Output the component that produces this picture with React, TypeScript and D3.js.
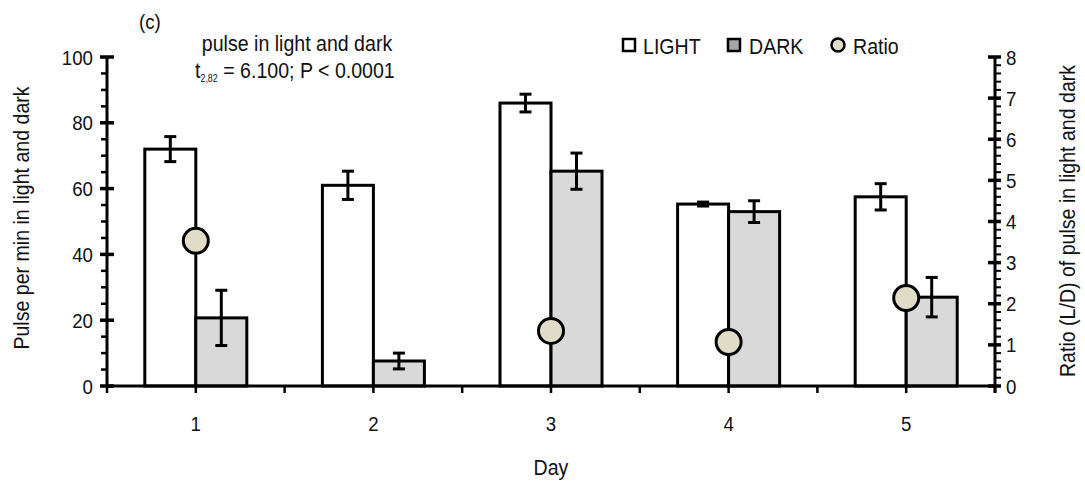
import { useEffect, useRef } from "react";
import * as d3 from "d3";

const days = ["1", "2", "3", "4", "5"];
const lightMean = [72, 61, 86, 55.3, 57.5];
const lightErr = [3.8, 4.3, 2.7, 0.6, 4];
const darkMean = [20.7, 7.6, 65.3, 53, 27];
const darkErr = [8.4, 2.4, 5.5, 3.3, 6];
const ratio: (number | null)[] = [3.53, null, 1.34, 1.07, 2.14];
const leftTicks = [0, 20, 40, 60, 80, 100];
const rightTicks = [0, 1, 2, 3, 4, 5, 6, 7, 8];

const FONT = "'Liberation Sans', Arial, sans-serif";
const SQUEEZE = 0.89; // the original font is a narrow Arial

const App = () => {
  const ref = useRef<SVGSVGElement>(null);

  useEffect(() => {
    const svg = d3.select(ref.current);
    svg.selectAll("*").remove();

    const left = 107, right = 995, top = 57, bottom = 386;
    const x = d3.scaleBand().domain(days).range([left, right]).paddingInner(0).paddingOuter(0);
    const y = d3.scaleLinear().domain([0, 100]).range([bottom, top]);
    const y2 = d3.scaleLinear().domain([0, 8]).range([bottom, top]);
    const barW = 51;
    const stroke = "#000";

    // narrow text helper
    const label = (px: number, py: number, str: string, size: number, anchor = "start", rot = 0) =>
      svg.append("text")
        .attr("transform", `translate(${px},${py}) rotate(${rot}) scale(${SQUEEZE},1)`)
        .attr("text-anchor", anchor)
        .attr("font-family", FONT)
        .attr("font-size", size)
        .attr("fill", "#111")
        .text(str);

    const g = svg.append("g");

    // bars
    days.forEach((d, i) => {
      const cx = x(d)! + x.bandwidth() / 2;
      g.append("rect")
        .attr("x", cx - barW).attr("y", y(lightMean[i]))
        .attr("width", barW).attr("height", bottom - y(lightMean[i]))
        .attr("fill", "#fff").attr("stroke", stroke).attr("stroke-width", 3);
      g.append("rect")
        .attr("x", cx).attr("y", y(darkMean[i]))
        .attr("width", barW).attr("height", bottom - y(darkMean[i]))
        .attr("fill", "#d9d9d9").attr("stroke", stroke).attr("stroke-width", 3);
    });

    // error bars
    const errBar = (cx: number, m: number, e: number) => {
      const eg = g.append("g").attr("stroke", stroke).attr("stroke-width", 3);
      eg.append("line").attr("x1", cx).attr("x2", cx).attr("y1", y(m + e)).attr("y2", y(m - e));
      eg.append("line").attr("x1", cx - 6).attr("x2", cx + 6).attr("y1", y(m + e)).attr("y2", y(m + e));
      eg.append("line").attr("x1", cx - 6).attr("x2", cx + 6).attr("y1", y(m - e)).attr("y2", y(m - e));
    };
    days.forEach((d, i) => {
      const cx = x(d)! + x.bandwidth() / 2;
      errBar(cx - barW / 2, lightMean[i], lightErr[i]);
      errBar(cx + barW / 2, darkMean[i], darkErr[i]);
    });

    // ratio points
    days.forEach((d, i) => {
      const r = ratio[i];
      if (r == null) return;
      const cx = x(d)! + x.bandwidth() / 2;
      g.append("circle").attr("cx", cx).attr("cy", y2(r)).attr("r", 12.5)
        .attr("fill", "#e0dcc8").attr("stroke", stroke).attr("stroke-width", 3);
    });

    // x axis
    const ax = svg.append("g").attr("stroke", stroke);
    ax.append("line").attr("x1", left).attr("x2", right).attr("y1", bottom).attr("y2", bottom).attr("stroke-width", 3);
    const xTicks = [...days.map(d => x(d)!), right, ...days.map(d => x(d)! + x.bandwidth() / 2)];
    xTicks.forEach(t => {
      ax.append("line").attr("x1", t).attr("x2", t).attr("y1", bottom).attr("y2", bottom + 7).attr("stroke-width", 2.5);
    });
    days.forEach(d => label(x(d)! + x.bandwidth() / 2, 431, d, 21, "middle"));

    // left axis
    ax.append("line").attr("x1", left).attr("x2", left).attr("y1", top).attr("y2", bottom).attr("stroke-width", 3);
    d3.range(0, 101, 5).forEach(v => {
      const major = v % 20 === 0;
      ax.append("line").attr("x1", major ? left - 7 : left - 6).attr("x2", major ? left + 7 : left)
        .attr("y1", y(v)).attr("y2", y(v)).attr("stroke-width", major ? 3.5 : 2.5);
    });
    leftTicks.forEach(v => label(93, y(v) + 7.5, String(v), 21, "end"));

    // right axis
    ax.append("line").attr("x1", right).attr("x2", right).attr("y1", top).attr("y2", bottom + 7).attr("stroke-width", 3);
    d3.range(0, 41).forEach(k => {
      const v = k * 0.2;
      const major = k % 5 === 0;
      ax.append("line").attr("x1", major ? right - 7 : right).attr("x2", right + 6)
        .attr("y1", y2(v)).attr("y2", y2(v)).attr("stroke-width", major ? 3.5 : 2);
    });
    rightTicks.forEach(v => label(1006, y2(v) + 7.5, String(v), 21, "start"));

    // axis titles
    label(29, 218, "Pulse per min in light and dark", 22, "middle", -90);
    label(1075, 221, "Ratio (L/D) of pulse in light and dark", 22, "middle", -90);
    label(551, 475, "Day", 22, "middle");

    // annotations
    label(139, 29, "(c)", 21);
    label(297, 51, "pulse in light and dark", 22, "middle");
    const stat = label(195, 78, "", 22);
    stat.append("tspan").text("t");
    stat.append("tspan").attr("font-size", 10).attr("dy", 4).text("2,82");
    stat.append("tspan").attr("dy", -4).text(" = 6.100; P < 0.0001");

    // legend
    const lg = svg.append("g");
    lg.append("rect").attr("x", 623).attr("y", 39).attr("width", 12).attr("height", 12)
      .attr("fill", "#fff").attr("stroke", stroke).attr("stroke-width", 2.5);
    label(643, 54, "LIGHT", 22);
    lg.append("rect").attr("x", 728).attr("y", 39).attr("width", 12).attr("height", 12)
      .attr("fill", "#a6a6a6").attr("stroke", stroke).attr("stroke-width", 2.5);
    label(749, 54, "DARK", 22);
    lg.append("circle").attr("cx", 838).attr("cy", 45).attr("r", 6.5)
      .attr("fill", "#e0dcc8").attr("stroke", stroke).attr("stroke-width", 2.5);
    label(853, 54, "Ratio", 22);
  }, []);

  return (
    <svg ref={ref} width={1085} height={483} style={{ display: "block", position: "absolute", left: 0, top: 0, background: "#fff" }} />
  );
};

export default App;
